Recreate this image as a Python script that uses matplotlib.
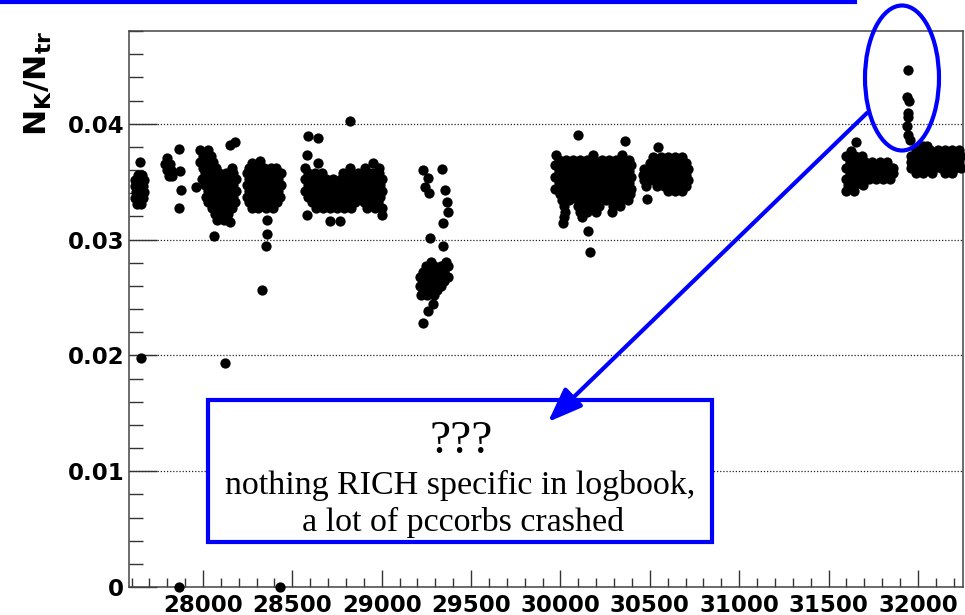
import matplotlib
matplotlib.use("Agg")
import matplotlib.pyplot as plt
from matplotlib.patches import Ellipse, Rectangle, FancyArrowPatch
from matplotlib.lines import Line2D
from matplotlib.ticker import MultipleLocator, FuncFormatter

# ---------------- data: (ratio N_K/N_tr, [run numbers]) ----------------
c1_rows = [
    (0.0367, [27650]),
    (0.0356, [27635, 27660]),
    (0.0351, [27622, 27648, 27668]),
    (0.0346, [27618, 27640, 27665]),
    (0.0341, [27625, 27650, 27668]),
    (0.0336, [27620, 27645, 27665]),
    (0.0331, [27632, 27655]),
]
c2_rows = [
    (0.0378, [27865]),
    (0.0370, [27800]),
    (0.0365, [27790, 27815]),
    (0.0360, [27800, 27822]),
    (0.0359, [27871]),
    (0.0355, [27808, 27828]),
    (0.0343, [27876]),
    (0.0327, [27865]),
]
c3_rows = [
    (0.0384, [28180]),
    (0.0382, [28151]),
    (0.0377, [27985, 28030]),
    (0.0372, [28000, 28045]),
    (0.0367, [27985, 28020, 28055]),
    (0.0362, [28000, 28040, 28075, 28165]),
    (0.0357, [28010, 28050, 28090, 28130, 28170]),
    (0.0352, [27995, 28030, 28070, 28110, 28150, 28185]),
    (0.0347, [28010, 28050, 28090, 28130, 28170]),
    (0.0345, [27960]),
    (0.0342, [28030, 28070, 28110, 28150, 28185]),
    (0.0337, [28015, 28050, 28090, 28130, 28170]),
    (0.0332, [28030, 28070, 28110, 28150, 28180]),
    (0.0327, [28050, 28090, 28130, 28160]),
    (0.0322, [28065, 28105, 28140]),
    (0.0317, [28080, 28115]),
    (0.0315, [28151]),
    (0.0303, [28061]),
]
c4_rows = [
    (0.0368, [28319]),
    (0.0366, [28274]),
    (0.0362, [28260, 28300, 28340, 28380, 28410]),
    (0.0357, [28245, 28280, 28320, 28360, 28400, 28436]),
    (0.0352, [28260, 28300, 28340, 28380, 28420]),
    (0.0347, [28245, 28280, 28320, 28360, 28400, 28436]),
    (0.0342, [28260, 28300, 28340, 28380, 28420]),
    (0.0337, [28245, 28280, 28320, 28360, 28400, 28430]),
    (0.0332, [28260, 28300, 28340, 28380, 28415]),
    (0.0327, [28275, 28310, 28350, 28390]),
    (0.0317, [28358]),
    (0.0305, [28358]),
    (0.0294, [28352]),
]
c5_rows = [
    (0.0389, [28588]),
    (0.0388, [28644]),
    (0.0373, [28582]),
    (0.0366, [28644, 28952]),
    (0.0362, [28571, 28820, 28905, 28985]),
    (0.0357, [28590, 28625, 28665, 28785, 28825, 28865, 28905, 28945, 28985]),
    (0.0352, [28571, 28610, 28650, 28690, 28730, 28770, 28810, 28850, 28890, 28930, 28970, 29000]),
    (0.0347, [28590, 28630, 28670, 28710, 28750, 28790, 28830, 28870, 28910, 28950, 28990]),
    (0.0342, [28571, 28610, 28650, 28690, 28730, 28770, 28810, 28850, 28890, 28930, 28970, 29000]),
    (0.0337, [28590, 28630, 28670, 28710, 28750, 28790, 28830, 28870, 28910, 28950, 28990]),
    (0.0332, [28610, 28650, 28690, 28730, 28770, 28810, 28850, 28900, 28940, 28980]),
    (0.0327, [28630, 28670, 28710, 28750, 28790, 28830, 28920, 28960, 29000]),
    (0.0321, [28582, 29002]),
    (0.0316, [28711, 28767]),
]
c6_rows = [
    (0.0361, [29339]),
    (0.0360, [29232]),
    (0.0353, [29260]),
    (0.0345, [29244]),
    (0.0343, [29356]),
    (0.0340, [29266]),
    (0.0332, [29367]),
    (0.0324, [29372]),
    (0.0314, [29344]),
    (0.0301, [29272]),
    (0.0294, [29344]),
    (0.0281, [29275, 29360]),
    (0.0277, [29250, 29290, 29330, 29368]),
    (0.0272, [29232, 29270, 29310, 29350]),
    (0.0268, [29215, 29250, 29290, 29330, 29370]),
    (0.0264, [29232, 29270, 29310, 29350]),
    (0.0260, [29215, 29250, 29290, 29330]),
    (0.0256, [29232, 29270, 29310]),
    (0.0252, [29222, 29255, 29290]),
    (0.0244, [29288]),
    (0.0238, [29260]),
    (0.0228, [29232]),
]
c7_rows = [
    (0.0390, [30099]),
    (0.0385, [30363]),
    (0.0373, [29975, 30183, 30346]),
    (0.0369, [29990, 30030, 30070, 30110, 30150, 30190, 30230, 30270, 30310, 30350, 30385]),
    (0.0364, [29970, 30010, 30050, 30090, 30130, 30170, 30210, 30250, 30290, 30330, 30370, 30396]),
    (0.0359, [29990, 30030, 30070, 30110, 30150, 30190, 30230, 30270, 30310, 30350, 30385]),
    (0.0354, [29970, 30010, 30050, 30090, 30130, 30170, 30210, 30250, 30290, 30330, 30370, 30396]),
    (0.0349, [29990, 30030, 30070, 30110, 30150, 30190, 30230, 30270, 30310, 30350, 30385]),
    (0.0344, [29970, 30010, 30050, 30090, 30130, 30170, 30210, 30250, 30290, 30330, 30370, 30396]),
    (0.0339, [30000, 30040, 30080, 30120, 30160, 30200, 30240, 30280, 30320, 30360, 30390]),
    (0.0334, [30010, 30050, 30100, 30140, 30180, 30220, 30255, 30300, 30340, 30375]),
    (0.0329, [30020, 30100, 30140, 30180, 30215, 30295, 30335]),
    (0.0324, [30025, 30110, 30150, 30200, 30290]),
    (0.0319, [30020, 30122]),
    (0.0314, [30015]),
    (0.0307, [30155]),
    (0.0289, [30167]),
]
c8_rows = [
    (0.0380, [30547]),
    (0.0371, [30520, 30560, 30600, 30640, 30680]),
    (0.0366, [30500, 30540, 30580, 30620, 30660, 30700]),
    (0.0361, [30465, 30520, 30560, 30600, 30640, 30680, 30715]),
    (0.0356, [30460, 30500, 30540, 30580, 30620, 30660, 30700]),
    (0.0351, [30465, 30520, 30560, 30600, 30640, 30680, 30715]),
    (0.0346, [30480, 30540, 30580, 30620, 30660, 30700]),
    (0.0342, [30600, 30640, 30680]),
    (0.0335, [30486]),
]
c9_rows = [
    (0.0384, [31656]),
    (0.0376, [31625]),
    (0.0372, [31600, 31645, 31685]),
    (0.0367, [31620, 31665, 31705, 31745, 31785, 31825]),
    (0.0362, [31595, 31640, 31685, 31725, 31765, 31805, 31845, 31862]),
    (0.0357, [31620, 31665, 31705, 31745, 31785, 31825, 31860]),
    (0.0352, [31595, 31640, 31685, 31725, 31765, 31805, 31845]),
    (0.0347, [31610, 31650, 31690]),
    (0.0342, [31600, 31640]),
]
c10_rows = [
    (0.0381, [32030, 32050]),
    (0.0377, [31990, 32030, 32070, 32110, 32150, 32190, 32230]),
    (0.0372, [31960, 32010, 32050, 32090, 32130, 32170, 32210, 32240]),
    (0.0367, [31960, 31990, 32030, 32070, 32110, 32150, 32190, 32230]),
    (0.0362, [31960, 32010, 32050, 32090, 32130, 32170, 32210, 32240]),
    (0.0357, [31990, 32030, 32080, 32150, 32190]),
]
ellipse_rows = [
    (0.0446, [31945]),
    (0.0423, [31938]),
    (0.0420, [31952]),
    (0.0409, [31945]),
    (0.0406, [31942]),
    (0.0398, [31938]),
    (0.0390, [31942]),
    (0.0386, [31955]),
]
single_runs = [27652, 28123, 28330, 27865, 28431, 28823]
single_vals = [0.0198, 0.0193, 0.0256, 0.0, 0.0, 0.0402]

x_ticks = [28000, 28500, 29000, 29500, 30000, 30500, 31000, 31500, 32000]
y_ticks = [0.0, 0.01, 0.02, 0.03, 0.04]
y_label = r"$\mathbf{N_{K}/N_{tr}}$"
box_title = "???"
box_line1 = "nothing RICH specific in logbook,"
box_line2 = "a lot of pccorbs crashed"

# ---------------- figure ----------------
W, H = 965, 615
plt.rcParams["mathtext.fontset"] = "dejavusans"
fig = plt.figure(figsize=(W / 100, H / 100), dpi=100)
fig.patch.set_facecolor("white")
ax = fig.add_axes([129 / W, 1 - 587 / H, (963 - 129) / W, (587 - 31) / H])

MS = 7.4
all_rows = [c1_rows, c2_rows, c3_rows, c4_rows, c5_rows, c6_rows, c7_rows,
            c8_rows, c9_rows, c10_rows, ellipse_rows]
for rows in all_rows:
    xs, ys = [], []
    for val, runs in rows:
        for r in runs:
            xs.append(r)
            ys.append(val)
    ax.plot(xs, ys, "o", ms=MS, color="black", mec="none", clip_on=False, zorder=3)
ax.plot(single_runs, single_vals, "o", ms=MS, color="black", mec="none",
        clip_on=False, zorder=3)

ax.set_xlim(27586, 32252)
ax.set_ylim(0, 0.0480)
ax.set_xticks(x_ticks)
ax.set_yticks(y_ticks)
ax.xaxis.set_minor_locator(MultipleLocator(100))
ax.yaxis.set_minor_locator(MultipleLocator(0.002))
ax.yaxis.set_major_formatter(FuncFormatter(lambda v, p: "0" if abs(v) < 1e-9 else f"{v:.2f}"))
ax.xaxis.set_major_formatter(FuncFormatter(lambda v, p: f"{int(round(v))}"))

ax.tick_params(axis="y", which="major", direction="in", length=20, width=1.0, pad=3.5,
               color="#333333")
ax.tick_params(axis="y", which="minor", direction="in", length=10, width=1.0, color="#333333")
ax.tick_params(axis="x", which="major", direction="in", length=12.5, width=1.0, pad=5,
               color="#333333")
ax.tick_params(axis="x", which="minor", direction="in", length=6.5, width=1.0, color="#333333")
for lab in ax.get_xticklabels() + ax.get_yticklabels():
    lab.set_fontfamily("DejaVu Sans")
    lab.set_fontweight("bold")
    lab.set_fontsize(16.5)

for sp in ax.spines.values():
    sp.set_color("#444444")
    sp.set_linewidth(1.1)

ax.set_axisbelow(True)
ax.yaxis.grid(True, which="major", linestyle=(0, (1, 1.5)), color="#222222", linewidth=0.9)

fig.text(38 / W, 1 - 31 / H, y_label, rotation=90, ha="center", va="top", fontsize=22.5)

# ---------------- annotations ----------------
fig.add_artist(Line2D([0, 855 / W], [1 - 2 / H, 1 - 2 / H], transform=fig.transFigure,
                      color="blue", lw=3))
fig.add_artist(Ellipse((902 / W, 1 - 78 / H), 74 / W, 145 / H, transform=fig.transFigure,
                       fill=False, ec="blue", lw=3, zorder=6))
fig.add_artist(Rectangle((208 / W, 1 - 542 / H), (712 - 208) / W, (542 - 400) / H,
                         transform=fig.transFigure, fc="white", ec="blue", lw=3, zorder=5))
fig.text(461 / W, 1 - 453 / H, box_title, family="Liberation Serif", fontsize=34,
         ha="center", va="baseline", zorder=7)
fig.text(460 / W, 1 - 494 / H, box_line1, family="Liberation Serif", fontsize=24.5,
         ha="center", va="baseline", zorder=7)
fig.text(463 / W, 1 - 531 / H, box_line2, family="Liberation Serif", fontsize=24.5,
         ha="center", va="baseline", zorder=7)
fig.add_artist(FancyArrowPatch((867 / W, 1 - 113 / H), (548 / W, 1 - 422 / H),
                               transform=fig.transFigure,
                               arrowstyle="-|>,head_length=2.1,head_width=0.8",
                               mutation_scale=10, color="blue", lw=3,
                               shrinkA=0, shrinkB=0, zorder=8))

fig.savefig("out.png", dpi=100, facecolor="white")
